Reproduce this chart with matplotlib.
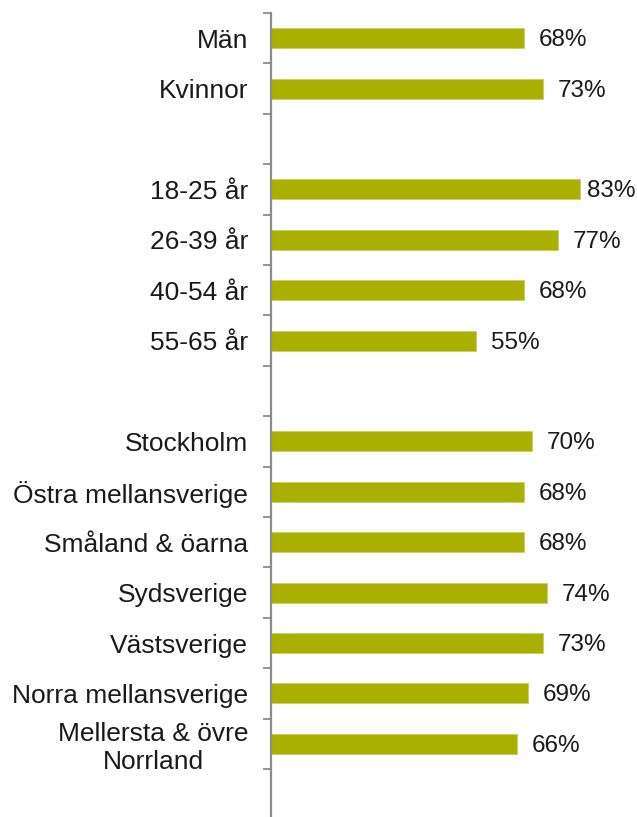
import matplotlib
matplotlib.use("Agg")
import matplotlib.pyplot as plt
import numpy as np

plt.rcParams['font.family'] = ['Liberation Sans', 'DejaVu Sans']

categories = ["Män", "Kvinnor", "",
              "18-25 år", "26-39 år", "40-54 år", "55-65 år", "",
              "Stockholm", "Östra mellansverige", "Småland & öarna", "Sydsverige",
              "Västsverige", "Norra mellansverige", "Mellersta & övre\nNorrland", ""]
values = [68, 73, None,
          83, 77, 68, 55, None,
          70, 68, 68, 74, 73, 69, 66, None]
value_labels = ["68%", "73%", "",
                "83%", "77%", "68%", "55%", "",
                "70%", "68%", "68%", "74%", "73%", "69%", "66%", ""]

W, H = 637, 817
fig = plt.figure(figsize=(W / 100, H / 100), dpi=100)
n = len(categories)
slot = 50.4
top_px = 13
height_px = n * slot
x0 = 270.5
ax = fig.add_axes([x0 / W, (H - top_px - height_px) / H, (W - x0) / W, height_px / H])

pxper = 3.73
xmax = (W - x0) / pxper
ax.set_xlim(0, xmax)
ax.set_ylim(n - 0.5, -0.5)

bar_color = "#AAB000"
for i, v in enumerate(values):
    if v is None:
        continue
    ax.barh(i, v, height=0.4, color=bar_color, edgecolor="#C8CC66", linewidth=0.6)
    tx = min(v + 4.0, 84.8)
    ax.text(tx, i + 0.04, value_labels[i], va="center", ha="left",
            fontsize=17.5, color="#1a1a1a")

ax.set_yticks(np.arange(n))
ax.set_yticklabels(categories, fontsize=19, color="#1a1a1a", linespacing=1.2)
for lab in ax.get_yticklabels():
    lab.set_multialignment("center")
ax.tick_params(axis="y", which="major", length=0, pad=16)
ax.set_yticks(np.arange(n + 1) - 0.5, minor=True)
ax.tick_params(axis="y", which="minor", length=6, width=1.3, color="#8c8c8c", direction="out")

ax.set_xticks([])
for s in ["top", "right", "bottom"]:
    ax.spines[s].set_visible(False)
ax.spines["left"].set_color("#8c8c8c")
ax.spines["left"].set_linewidth(1.6)

fig.savefig("out.png", dpi=100)
